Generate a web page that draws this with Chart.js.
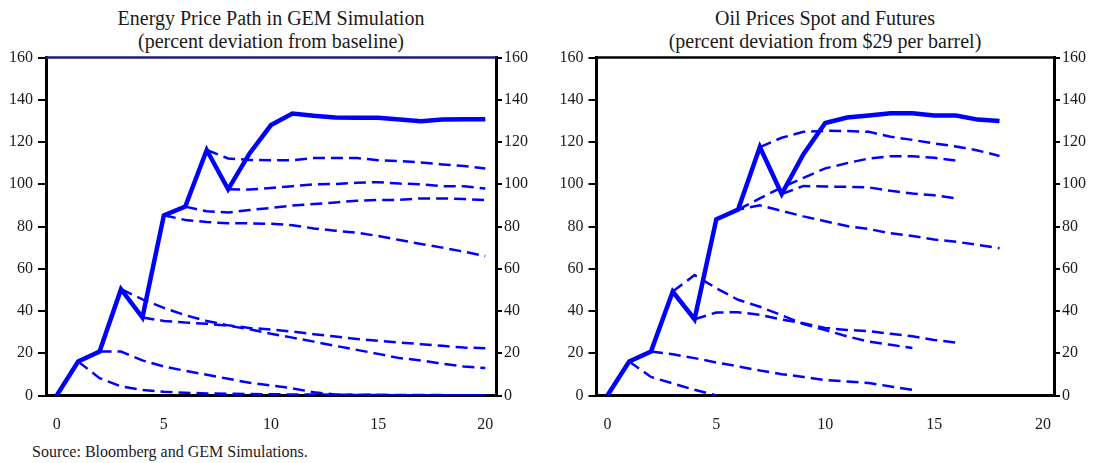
<!DOCTYPE html>
<html>
<head>
<meta charset="utf-8">
<script src="https://cdn.jsdelivr.net/npm/chart.js@4.4.1/dist/chart.umd.min.js"></script>
<style>
  html, body { margin: 0; padding: 0; background: #fff; }
  body { width: 1096px; height: 463px; position: relative; overflow: hidden; font-family: "Liberation Serif", "Times New Roman", serif; color: #1a1a1a; }
  .title { position: absolute; top: 7px; text-align: center; font-size: 20px; line-height: 23px; white-space: nowrap; }
  #t1 { left: 71px; width: 400px; }
  #t2 { left: 625px; width: 400px; }
  #src { position: absolute; left: 32px; top: 442px; font-size: 16px; line-height: 20px; white-space: nowrap; }
  canvas { position: absolute; top: 0; }
  #c1 { left: 0; }
  #c2 { left: 548px; }
</style>
</head>
<body>
<div class="title" id="t1">Energy Price Path in GEM Simulation<br>(percent deviation from baseline)</div>
<div class="title" id="t2">Oil Prices Spot and Futures<br>(percent deviation from $29 per barrel)</div>
<div id="src">Source: Bloomberg and GEM Simulations.</div>
<canvas id="c1" width="548" height="463"></canvas>
<canvas id="c2" width="548" height="463"></canvas>
<script>
// ---- data ----
const periods = [0,1,2,3,4,5,6,7,8,9,10,11,12,13,14,15,16,17,18,19,20];
const xTicks = [0,5,10,15,20];
const yTicks = [0,20,40,60,80,100,120,140,160];

// Left panel: GEM simulation (path + expectation curves)
const gemPath = [0,16.1,20.8,50.3,36.9,85.3,89.4,116.2,97.6,114.6,128,133.5,132.4,131.6,131.5,131.5,130.7,129.8,130.6,130.8,130.8];
const gemExp1 = [null,16.1,8.2,4.3,2.6,1.8,1.3,1.0,0.8,0.7,0.6,0.5,0.5,0.4,0.3,0.3,0.2,0.2,0.2,0.1,0.1];
const gemExp2 = [null,null,20.8,20.8,16.6,13.7,11.7,9.8,7.9,6.0,4.8,3.4,1.5,0.5,0.2,0.2,0.1,0.1,0.1,0.1,0.1];
const gemExp3 = [null,null,null,50.3,45.5,41.5,38.0,35.3,33.2,32.0,31.2,30.3,29.0,27.9,26.8,25.9,25.1,24.3,23.5,22.7,22.4];
const gemExp4 = [null,null,null,null,36.9,35.3,34.5,34.0,33.0,31.4,29.2,27.4,25.5,23.5,21.6,19.7,17.7,16.6,15.0,13.7,13.0];
const gemExp5 = [null,null,null,null,null,85.3,83.1,82.1,81.5,81.5,81.3,80.6,79.1,78.0,77.1,75.5,73.6,71.7,70.0,68.1,66.0];
const gemExp6 = [null,null,null,null,null,null,89.4,87.2,86.6,87.8,88.8,89.9,90.6,91.4,92.2,92.6,92.6,93.3,93.3,93.0,92.5];
const gemExp7 = [null,null,null,null,null,null,null,116.2,112.2,111.5,111.4,111.4,112.4,112.4,112.4,111.4,111.0,110.3,109.4,108.6,107.5];
const gemExp8 = [null,null,null,null,null,null,null,null,97.6,97.5,98.2,99.1,100.0,100.1,100.7,101.0,100.3,100.0,99.1,99.0,98.0];

// Right panel: oil spot and futures
const oilSpot = [0,16.1,20.8,49.2,36.1,83.4,88.0,117.6,95.4,114.2,129.0,131.6,132.5,133.6,133.6,132.5,132.5,130.6,129.9];
const oilFut1 = [null,16.1,8.8,5.7,2.7,0];
const oilFut2 = [null,null,20.8,19.5,17.7,15.6,13.8,11.8,10.1,8.8,7.3,6.6,5.9,4.3,2.7];
const oilFut3 = [null,null,null,49.2,57.0,50.8,45.3,42.0,38.0,33.8,31.0,28.0,25.5,24.0,22.5];
const oilFut4 = [null,null,null,null,36.1,39.3,39.4,38.2,36.0,34.2,32.0,31.0,30.5,29.2,28.0,26.3,25.1];
const oilFut5 = [null,null,null,null,null,83.4,88.0,90.0,87.4,84.8,82.5,80.2,78.8,76.8,75.5,73.8,72.8,71.3,69.7];
const oilFut6 = [null,null,null,null,null,null,88.0,93.3,98.5,103.0,107.5,110.0,112.2,113.3,113.2,112.5,111.2];
const oilFut7 = [null,null,null,null,null,null,null,117.6,122.0,124.8,125.3,125.2,124.8,122.5,121.0,119.3,117.9,116.0,113.4];
const oilFut8 = [null,null,null,null,null,null,null,null,95.4,99.2,98.9,98.8,98.5,96.9,95.6,94.8,93.3];

// ---- helpers ----
const BLUE = '#0000ff';
function pts(arr) { return arr.map((v, i) => ({x: periods[i], y: v})); }
function solid(arr) {
  return { data: pts(arr), borderColor: BLUE, borderWidth: 4.5, pointRadius: 0, tension: 0, spanGaps: false, borderJoinStyle: 'miter', borderCapStyle: 'butt' };
}
function dashed(arr) {
  return { data: pts(arr), borderColor: BLUE, borderWidth: 2.5, borderDash: [12, 6], pointRadius: 0, tension: 0, spanGaps: false };
}

const tickFont = { family: '"Liberation Serif", "Times New Roman", serif', size: 16 };
const TXT = '#1a1a1a';

function topLine(color) {
  return {
    id: 'topLine',
    afterDraw(chart) {
      const a = chart.chartArea, c = chart.ctx;
      c.save();
      c.strokeStyle = color; c.lineWidth = 2.5;
      c.beginPath(); c.moveTo(a.left - 1, a.top); c.lineTo(a.right + 1, a.top); c.stroke();
      c.restore();
    }
  };
}

function makeOptions(cfg) {
  return {
    responsive: false,
    animation: false,
    events: [],
    layout: { padding: { top: 57.5, bottom: 27.5, left: 0, right: 0 } },
    plugins: { legend: { display: false }, tooltip: { enabled: false }, title: { display: false } },
    scales: {
      x: {
        type: 'linear', min: -0.5, max: 20.5,
        afterBuildTicks: s => { s.ticks = xTicks.map(v => ({value: v})); },
        afterFit: s => { s.height = 40; },
        grid: { display: false, drawTicks: false },
        border: { display: true, color: '#000', width: 3 },
        ticks: { font: tickFont, color: TXT, padding: 20, maxRotation: 0 }
      },
      y: {
        position: 'left', min: 0, max: 160,
        afterBuildTicks: s => { s.ticks = yTicks.map(v => ({value: v})); },
        afterFit: s => { s.width = cfg.leftW; },
        grid: { drawOnChartArea: false, drawTicks: true, tickLength: 8, color: '#000', lineWidth: 2 },
        border: { display: true, color: '#000', width: 3 },
        ticks: { font: tickFont, color: TXT, padding: 5 }
      },
      y2: {
        position: 'right', min: 0, max: 160,
        afterBuildTicks: s => { s.ticks = yTicks.map(v => ({value: v})); },
        afterFit: s => { s.width = cfg.rightW; },
        grid: { drawOnChartArea: false, drawTicks: true, tickLength: 6, color: '#000', lineWidth: 2 },
        border: { display: true, color: '#000', width: 3 },
        ticks: { font: tickFont, color: TXT, padding: 2 }
      }
    }
  };
}

new Chart(document.getElementById('c1'), {
  type: 'line',
  data: { datasets: [
    solid(gemPath),
    dashed(gemExp1), dashed(gemExp2), dashed(gemExp3), dashed(gemExp4),
    dashed(gemExp5), dashed(gemExp6), dashed(gemExp7), dashed(gemExp8)
  ] },
  options: makeOptions({ leftW: 46, rightW: 52 }),
  plugins: [topLine('#1c1c7a')]
});

new Chart(document.getElementById('c2'), {
  type: 'line',
  data: { datasets: [
    solid(oilSpot),
    dashed(oilFut1), dashed(oilFut2), dashed(oilFut3), dashed(oilFut4),
    dashed(oilFut5), dashed(oilFut6), dashed(oilFut7), dashed(oilFut8)
  ] },
  options: makeOptions({ leftW: 48.5, rightW: 42 }),
  plugins: [topLine('#000')]
});
</script>
</body>
</html>
